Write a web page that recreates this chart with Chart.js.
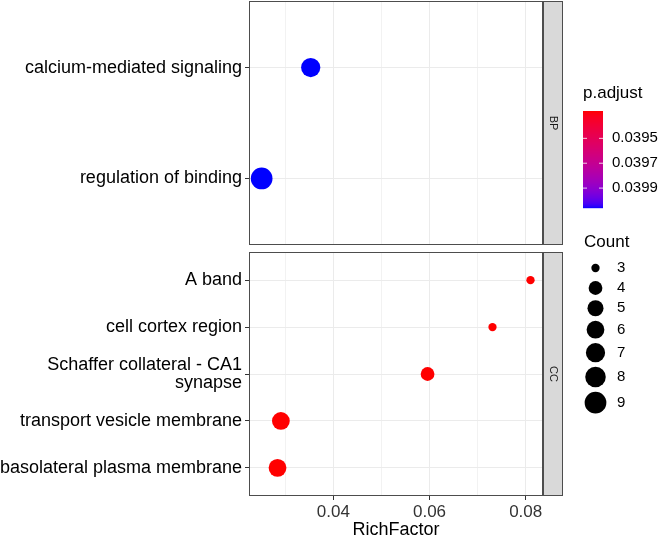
<!DOCTYPE html>
<html>
<head>
<meta charset="utf-8">
<script src="https://cdn.jsdelivr.net/npm/chart.js@4/dist/chart.umd.min.js"></script>
<style>
  html, body { margin: 0; padding: 0; background: #ffffff; }
  #wrap { position: relative; width: 661px; height: 536px; overflow: hidden; background: #ffffff; }
  #wrap canvas { position: absolute; left: 0; top: 0; }
</style>
</head>
<body>
<div id="wrap">
  <canvas id="c1" width="661" height="536"></canvas>
  <canvas id="c2" width="661" height="536"></canvas>
</div>
<script>
// ---------------- DATA ----------------
const facetNames = ['BP', 'CC'];
const termsBP = ['calcium-mediated signaling', 'regulation of binding'];
const richBP = [0.0353, 0.0251];
const countBP = [7, 9];
const padjBP = [0.04006, 0.04006];

const termsCC = ['A band', 'cell cortex region', 'Schaffer collateral - CA1 synapse',
                 'transport vesicle membrane', 'basolateral plasma membrane'];
const richCC = [0.0810, 0.0731, 0.0596, 0.0291, 0.0284];
const countCC = [3, 3, 4, 6, 6];
const padjCC = [0.03928, 0.03928, 0.03928, 0.03928, 0.03928];

const xTickValues = [0.03, 0.04, 0.05, 0.06, 0.07, 0.08];
const padjBreaks = [0.0395, 0.0397, 0.0399];
const countBreaks = [3, 4, 5, 6, 7, 8, 9];
const xTitle = 'RichFactor';

// ---------------- HELPERS ----------------
const FONT = "'Liberation Sans', Arial, Helvetica, sans-serif";
const W = 661, H = 536;
const PANEL_LEFT = 249, PANEL_RIGHT = 543, STRIP_W = 20;
const X_MIN = 0.02247, X_MAX = 0.0836;

const allPadj = padjBP.concat(padjCC);
const P_MIN = Math.min(...allPadj), P_MAX = Math.max(...allPadj);
const C_MIN = Math.min(...countBreaks), C_MAX = Math.max(...countBreaks);

function wrapLabel(s, width) {
  const words = s.split(' ');
  const lines = [];
  let cur = '';
  words.forEach(w => {
    const t = cur ? cur + ' ' + w : w;
    if (t.length > width && cur) { lines.push(cur); cur = w; } else { cur = t; }
  });
  if (cur) lines.push(cur);
  return lines.length > 1 ? lines : lines[0];
}

// Lab interpolation (ggplot-like gradient)
function toLin(c){ c/=255; return c<=0.04045 ? c/12.92 : Math.pow((c+0.055)/1.055,2.4); }
function toS(c){ c = c<=0.0031308 ? 12.92*c : 1.055*Math.pow(c,1/2.4)-0.055; return Math.round(Math.max(0,Math.min(1,c))*255); }
const Xn=0.95047, Yn=1.0, Zn=1.08883;
function fL(t){ return t>216/24389 ? Math.cbrt(t) : (24389/27*t+16)/116; }
function fInv(t){ const t3=t*t*t; return t3>216/24389 ? t3 : (116*t-16)/(24389/27); }
function rgb2lab(rgb){
  const r=toLin(rgb[0]), g=toLin(rgb[1]), b=toLin(rgb[2]);
  const X=0.4124*r+0.3576*g+0.1805*b, Y=0.2126*r+0.7152*g+0.0722*b, Z=0.0193*r+0.1192*g+0.9505*b;
  const fx=fL(X/Xn), fy=fL(Y/Yn), fz=fL(Z/Zn);
  return [116*fy-16, 500*(fx-fy), 200*(fy-fz)];
}
function lab2rgb(lab){
  const fy=(lab[0]+16)/116, fx=fy+lab[1]/500, fz=fy-lab[2]/200;
  const X=Xn*fInv(fx), Y=Yn*fInv(fy), Z=Zn*fInv(fz);
  const r=3.2406*X-1.5372*Y-0.4986*Z, g=-0.9689*X+1.8758*Y+0.0415*Z, b=0.0557*X-0.2040*Y+1.0570*Z;
  return [toS(r), toS(g), toS(b)];
}
const LAB_LOW = rgb2lab([255,0,0]);   // low p.adjust -> red
const LAB_HIGH = rgb2lab([0,0,255]);  // high p.adjust -> blue
function padjColor(p){
  let t = (p - P_MIN) / (P_MAX - P_MIN);
  t = Math.max(0, Math.min(1, t));
  const lab = [0,1,2].map(i => LAB_LOW[i] + (LAB_HIGH[i]-LAB_LOW[i])*t);
  const c = lab2rgb(lab);
  return 'rgb(' + c[0] + ',' + c[1] + ',' + c[2] + ')';
}
function countDiameter(c){
  const s = 3 + 5*Math.sqrt(Math.max(0,(c - C_MIN)/(C_MAX - C_MIN)));
  return 2.68*s + 0.26;
}
function isMajor(v){ const k = Math.round(v*100); return Math.abs(v*100-k) < 1e-6 && k % 2 === 0; }
const ZERO_PAD = () => ({ left: 0, top: 0, right: 0, bottom: 0 });

// ---------------- PLUGINS ----------------
function panelPlugin(stripText){
  return {
    id: 'panel_' + stripText,
    afterDraw(chart){
      const a = chart.chartArea, ctx = chart.ctx;
      ctx.save();
      ctx.fillStyle = '#D9D9D9';
      ctx.fillRect(a.right, a.top, STRIP_W, a.bottom - a.top);
      ctx.strokeStyle = '#4D4D4D';
      ctx.lineWidth = 1;
      ctx.strokeRect(a.right + 0.5, a.top + 0.5, STRIP_W - 1, a.bottom - a.top - 1);
      ctx.fillStyle = '#1A1A1A';
      ctx.font = '11px ' + FONT;
      ctx.textAlign = 'center';
      ctx.textBaseline = 'middle';
      ctx.translate(a.right + STRIP_W/2, (a.top + a.bottom)/2);
      ctx.rotate(Math.PI/2);
      ctx.fillText(stripText, 0, 0);
      ctx.restore();
      ctx.save();
      ctx.strokeStyle = '#4D4D4D';
      ctx.lineWidth = 1;
      ctx.strokeRect(a.left + 0.5, a.top + 0.5, a.right - a.left - 1, a.bottom - a.top - 1);
      ctx.restore();
    }
  };
}

const legendPlugin = {
  id: 'legends',
  afterDraw(chart){
    const ctx = chart.ctx;
    ctx.save();
    const bx = 583, bw = 20, by = 111, bh = 97;
    ctx.fillStyle = '#000';
    ctx.font = '17px ' + FONT;
    ctx.textAlign = 'left';
    ctx.textBaseline = 'middle';
    ctx.fillText('p.adjust', bx, 93);
    for (let i = 0; i < bh; i++) {
      const p = P_MIN + (P_MAX - P_MIN) * (i + 0.5) / bh;
      ctx.fillStyle = padjColor(p);
      ctx.fillRect(bx, by + i, bw, 1.2);
    }
    ctx.font = '15px ' + FONT;
    padjBreaks.forEach(v => {
      const y = by + (v - P_MIN) / (P_MAX - P_MIN) * bh;
      ctx.strokeStyle = 'rgba(255,255,255,0.8)';
      ctx.lineWidth = 1;
      ctx.beginPath();
      ctx.moveTo(bx, y); ctx.lineTo(bx + 4, y);
      ctx.moveTo(bx + bw - 4, y); ctx.lineTo(bx + bw, y);
      ctx.stroke();
      ctx.fillStyle = '#000';
      ctx.fillText(v.toFixed(4), 612, y);
    });
    ctx.font = '17px ' + FONT;
    ctx.fillStyle = '#000';
    ctx.fillText('Count', 584, 242);
    let y = 258;
    ctx.font = '15px ' + FONT;
    countBreaks.forEach(c => {
      const d = countDiameter(c);
      const kh = Math.max(20, d + 4.5);
      const cy = y + kh/2;
      ctx.fillStyle = '#000';
      ctx.beginPath();
      ctx.arc(595.5, cy, d/2, 0, Math.PI*2);
      ctx.fill();
      ctx.fillText(String(c), 617, cy);
      y += kh;
    });
    ctx.restore();
  }
};

// ---------------- CHARTS ----------------
function makeChart(id, terms, rich, counts, padj, top, bottom, showX, extraPlugins){
  const pts = terms.map((t, i) => ({ x: rich[i], y: i }));
  return new Chart(document.getElementById(id), {
    type: 'scatter',
    data: {
      datasets: [{
        data: pts,
        clip: false,
        pointRadius: ctx => countDiameter(counts[ctx.dataIndex]) / 2,
        pointHoverRadius: ctx => countDiameter(counts[ctx.dataIndex]) / 2,
        pointBackgroundColor: ctx => padjColor(padj[ctx.dataIndex]),
        pointBorderWidth: 0,
        pointBorderColor: 'rgba(0,0,0,0)'
      }]
    },
    options: {
      responsive: false,
      animation: false,
      events: [],
      devicePixelRatio: 1,
      layout: { autoPadding: false, padding: { top: top, right: W - PANEL_RIGHT, bottom: showX ? 0 : H - bottom, left: 0 } },
      plugins: { legend: { display: false }, tooltip: { enabled: false } },
      scales: {
        x: {
          type: 'linear',
          min: X_MIN, max: X_MAX,
          afterBuildTicks: s => { s.ticks = xTickValues.map(v => ({ value: v })); },
          afterFit: s => { s.height = showX ? (H - bottom) : 0; s.paddingLeft = 0; s.paddingRight = 0; s.getPadding = ZERO_PAD; },
          border: { display: false },
          grid: {
            color: c => isMajor(c.tick.value) ? '#EBEBEB' : '#F2F2F2',
            lineWidth: 1,
            drawTicks: showX,
            tickLength: 4,
            tickColor: c => (c.tick && isMajor(c.tick.value)) ? '#333333' : 'rgba(0,0,0,0)',
            tickWidth: 1
          },
          ticks: {
            display: showX,
            autoSkip: false,
            maxRotation: 0,
            padding: 2,
            color: '#333333',
            font: { family: FONT, size: 17 },
            callback: v => isMajor(v) ? v.toFixed(2) : ''
          },
          title: {
            display: showX,
            text: xTitle,
            color: '#000',
            font: { family: FONT, size: 18, lineHeight: 1 },
            padding: { top: 0, bottom: -3 }
          }
        },
        y: {
          type: 'linear',
          reverse: true,
          min: -0.6, max: terms.length - 1 + 0.6,
          afterBuildTicks: s => { s.ticks = terms.map((t, i) => ({ value: i })); },
          afterFit: s => { s.width = PANEL_LEFT; s.paddingTop = 0; s.paddingBottom = 0; s.getPadding = ZERO_PAD; },
          border: { display: false },
          grid: { color: '#EBEBEB', lineWidth: 1, drawTicks: true, tickLength: 4, tickColor: '#333333', tickWidth: 1 },
          ticks: {
            autoSkip: false,
            padding: 3,
            color: '#000',
            font: { family: FONT, size: 18, lineHeight: 1.0 },
            callback: v => wrapLabel(terms[v], 30)
          }
        }
      }
    },
    plugins: extraPlugins
  });
}

makeChart('c1', termsBP, richBP, countBP, padjBP, 1, 245, false, [panelPlugin(facetNames[0])]);
makeChart('c2', termsCC, richCC, countCC, padjCC, 252, 496, true, [panelPlugin(facetNames[1]), legendPlugin]);
</script>
</body>
</html>
